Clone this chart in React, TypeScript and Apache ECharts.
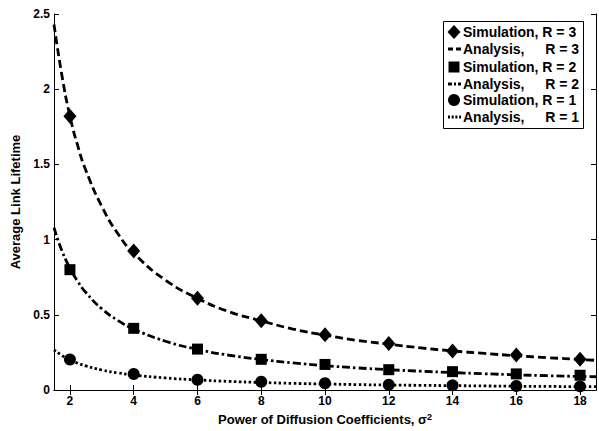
import React, { useEffect, useRef } from "react";
import * as echarts from "echarts";

// Simulation points
const simX = [2, 4, 6, 8, 10, 12, 14, 16, 18];
const simR3 = [1.82, 0.925, 0.61, 0.46, 0.368, 0.31, 0.26, 0.232, 0.204];
const simR2 = [0.8, 0.41, 0.272, 0.204, 0.17, 0.135, 0.122, 0.107, 0.098];
const simR1 = [0.203, 0.106, 0.068, 0.055, 0.045, 0.035, 0.031, 0.027, 0.024];

// Analysis curves (at these abscissae)
const anaX = [1.5, 1.75, 2, 2.25, 2.5, 3, 3.5, 4, 5, 6, 7, 8, 9, 10, 11, 12, 13, 14, 15, 16, 17, 18, 18.5];
const anaR3 = [2.43, 2.09, 1.82, 1.62, 1.46, 1.22, 1.04, 0.91, 0.73, 0.61, 0.52, 0.46, 0.405, 0.365, 0.33, 0.305, 0.28, 0.26, 0.243, 0.228, 0.215, 0.203, 0.197];
const anaR2 = [1.08, 0.925, 0.81, 0.72, 0.648, 0.54, 0.463, 0.405, 0.324, 0.27, 0.231, 0.203, 0.18, 0.162, 0.147, 0.135, 0.125, 0.116, 0.108, 0.101, 0.095, 0.09, 0.088];
const anaR1 = [0.267, 0.229, 0.2, 0.178, 0.16, 0.133, 0.114, 0.1, 0.08, 0.067, 0.057, 0.05, 0.044, 0.04, 0.036, 0.033, 0.031, 0.029, 0.027, 0.025, 0.024, 0.022, 0.022];

const xTicks = [2, 4, 6, 8, 10, 12, 14, 16, 18];
const legendLabels = ["Simulation, R = 3", "Analysis,", "Simulation, R = 2", "Analysis,", "Simulation, R = 1", "Analysis,"];
const legendR = ["", "R = 3", "", "R = 2", "", "R = 1"];

const FONT = "'Liberation Sans', Arial, sans-serif";

const zip = (xs: number[], ys: number[]) => xs.map((x, i) => [x, ys[i]]);

export default function App() {
  const ref = useRef<HTMLDivElement>(null);
  useEffect(() => {
    if (!ref.current) return;
    const chart = echarts.init(ref.current, null, { renderer: "svg" });
    const lx = 443, ly = 21, lw = 140, lh = 107;
    const rowY = [32, 49, 67, 84, 100, 117];
    const mx = 454;
    const textX = 463;
    const txtStyle = { fontSize: 14, fontWeight: "bold", fontFamily: FONT, fill: "#000", verticalAlign: "middle" };
    const legendChildren: any[] = [
      { type: "rect", shape: { x: lx + 0.5, y: ly + 0.5, width: lw, height: lh }, style: { fill: "#fff", stroke: "#000", lineWidth: 1 } },
      { type: "polygon", shape: { points: [[mx, rowY[0] - 7], [mx + 6.5, rowY[0]], [mx, rowY[0] + 7], [mx - 6.5, rowY[0]]] }, style: { fill: "#000" } },
      { type: "line", shape: { x1: mx - 6, y1: rowY[1], x2: mx + 7, y2: rowY[1] }, style: { stroke: "#000", lineWidth: 2.8, lineDash: [5, 3] } },
      { type: "rect", shape: { x: mx - 5.5, y: rowY[2] - 5.5, width: 11, height: 11 }, style: { fill: "#000" } },
      { type: "line", shape: { x1: mx - 6, y1: rowY[3], x2: mx + 7, y2: rowY[3] }, style: { stroke: "#000", lineWidth: 2.8, lineDash: [4, 2, 2, 2] } },
      { type: "circle", shape: { cx: mx, cy: rowY[4], r: 6 }, style: { fill: "#000" } },
      { type: "line", shape: { x1: mx - 6, y1: rowY[5], x2: mx + 7, y2: rowY[5] }, style: { stroke: "#000", lineWidth: 2.8, lineDash: [2, 1.7] } },
    ];
    legendLabels.forEach((t, i) => {
      legendChildren.push({
        type: "text",
        x: textX,
        y: rowY[i],
        style: { ...txtStyle, text: t, align: "left" },
      });
      if (legendR[i]) {
        legendChildren.push({
          type: "text",
          x: 579,
          y: rowY[i],
          style: { ...txtStyle, text: legendR[i], align: "right" },
        });
      }
    });

    const axisCommon = {
      axisLine: { show: true, lineStyle: { color: "#000", width: 1 } },
      splitLine: { show: false },
    };

    chart.setOption({
      animation: false,
      backgroundColor: "#fff",
      textStyle: { fontFamily: FONT },
      grid: { left: 54, right: 3, top: 14, bottom: 40 },
      xAxis: [
        {
          type: "value",
          min: 1.5,
          max: 18.5,
          ...axisCommon,
          axisTick: { show: true, inside: true, length: 5, customValues: xTicks, lineStyle: { color: "#000" } },
          axisLabel: { show: true, customValues: xTicks, margin: 5, color: "#000", fontWeight: "bold", fontSize: 12, fontFamily: FONT },
          name: "Power of Diffusion Coefficients, σ{sup|2}",
          nameLocation: "middle",
          nameGap: 22,
          nameTextStyle: {
            color: "#000",
            fontWeight: "bold",
            fontSize: 13,
            fontFamily: FONT,
            rich: { sup: { fontSize: 9, fontWeight: "bold", fontFamily: FONT, color: "#000", verticalAlign: "top", padding: [0, 0, 6, 0] } },
          },
        },
        {
          type: "value",
          position: "top",
          min: 1.5,
          max: 18.5,
          ...axisCommon,
          axisTick: { show: true, inside: true, length: 5, customValues: xTicks, lineStyle: { color: "#000" } },
          axisLabel: { show: false },
        },
      ],
      yAxis: [
        {
          type: "value",
          min: 0,
          max: 2.5,
          interval: 0.5,
          ...axisCommon,
          axisTick: { show: true, inside: true, length: 5, lineStyle: { color: "#000" } },
          axisLabel: { show: true, margin: 4, color: "#000", fontWeight: "bold", fontSize: 12, fontFamily: FONT },
          name: "Average Link Lifetime",
          nameLocation: "middle",
          nameGap: 23,
          nameTextStyle: { color: "#000", fontWeight: "bold", fontSize: 13, fontFamily: FONT },
        },
        {
          type: "value",
          position: "right",
          min: 0,
          max: 2.5,
          interval: 0.5,
          ...axisCommon,
          axisTick: { show: true, inside: true, length: 5, lineStyle: { color: "#000" } },
          axisLabel: { show: false },
        },
      ],
      series: [
        { type: "line", name: "Analysis, R = 3", data: zip(anaX, anaR3), smooth: true, showSymbol: false, lineStyle: { color: "#000", width: 2.8, type: [8, 4] }, z: 2 },
        { type: "line", name: "Analysis, R = 2", data: zip(anaX, anaR2), smooth: true, showSymbol: false, lineStyle: { color: "#000", width: 2.8, type: [8, 3, 2.5, 3] }, z: 2 },
        { type: "line", name: "Analysis, R = 1", data: zip(anaX, anaR1), smooth: true, showSymbol: false, lineStyle: { color: "#000", width: 2.8, type: [2.5, 2.5] }, z: 2 },
        { type: "scatter", name: "Simulation, R = 3", data: zip(simX, simR3), symbol: "diamond", symbolSize: [13, 15], itemStyle: { color: "#000", opacity: 1 }, z: 3 },
        { type: "scatter", name: "Simulation, R = 2", data: zip(simX, simR2), symbol: "rect", symbolSize: 11, itemStyle: { color: "#000", opacity: 1 }, z: 3 },
        { type: "scatter", name: "Simulation, R = 1", data: zip(simX, simR1), symbol: "circle", symbolSize: 12, itemStyle: { color: "#000", opacity: 1 }, z: 3 },
      ],
      graphic: [{ type: "group", children: legendChildren, z: 100 }],
    });
    return () => chart.dispose();
  }, []);
  return <div ref={ref} style={{ position: "fixed", left: 0, top: 0, width: 599, height: 431 }} />;
}
